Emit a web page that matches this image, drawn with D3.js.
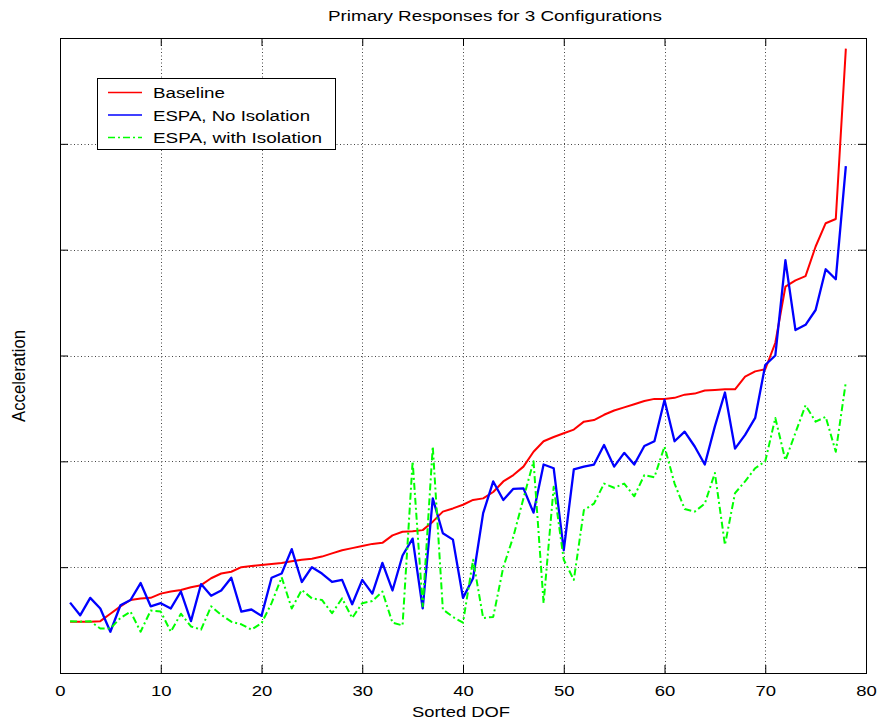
<!DOCTYPE html>
<html><head><meta charset="utf-8">
<script src="https://cdn.jsdelivr.net/npm/d3@7"></script>
<style>
body{margin:0;background:#fff}
svg text{font-family:"Liberation Sans",Arial,Helvetica,sans-serif;fill:#000}
</style></head>
<body><svg id="c" width="877" height="723"></svg>
<script>
const dof = d3.range(1, 79);
const baseline = [0.485,0.485,0.485,0.49,0.56,0.63,0.69,0.705,0.71,0.75,0.77,0.785,0.81,0.83,0.895,0.94,0.957,1.0,1.01,1.02,1.03,1.04,1.055,1.07,1.08,1.10,1.13,1.16,1.18,1.20,1.22,1.23,1.30,1.335,1.34,1.35,1.43,1.525,1.555,1.59,1.635,1.65,1.71,1.81,1.87,1.95,2.09,2.19,2.23,2.265,2.30,2.375,2.39,2.44,2.48,2.51,2.54,2.57,2.59,2.59,2.60,2.63,2.64,2.67,2.675,2.68,2.68,2.80,2.85,2.87,3.12,3.65,3.71,3.75,4.03,4.25,4.29,5.90];
const noIsolation = [0.665,0.545,0.71,0.61,0.39,0.64,0.69,0.85,0.63,0.66,0.61,0.77,0.49,0.84,0.73,0.78,0.90,0.58,0.60,0.54,0.90,0.94,1.17,0.86,1.0,0.94,0.86,0.88,0.65,0.88,0.75,1.04,0.78,1.11,1.27,0.61,1.65,1.32,1.26,0.71,0.895,1.51,1.81,1.635,1.74,1.745,1.515,1.97,1.935,1.16,1.925,1.95,1.97,2.155,1.95,2.08,1.97,2.145,2.19,2.58,2.19,2.28,2.14,1.97,2.33,2.65,2.12,2.25,2.41,2.91,3.0,3.90,3.24,3.29,3.43,3.815,3.72,4.79];
const withIsolation = [0.49,0.485,0.49,0.42,0.42,0.52,0.58,0.39,0.59,0.58,0.39,0.56,0.44,0.41,0.63,0.55,0.485,0.46,0.41,0.47,0.66,0.905,0.61,0.785,0.705,0.69,0.565,0.705,0.52,0.66,0.68,0.77,0.475,0.45,2.0,0.63,2.14,0.6,0.53,0.475,1.07,0.52,0.53,1.0,1.29,1.65,2.0,0.66,1.76,1.07,0.88,1.54,1.60,1.79,1.75,1.79,1.67,1.87,1.85,2.14,1.79,1.55,1.525,1.60,1.89,1.21,1.70,1.81,1.935,2.0,2.41,2.01,2.27,2.53,2.375,2.42,2.09,2.75];
const seriesNames = ["Baseline","ESPA, No Isolation","ESPA, with Isolation"];
const seriesColors = ["#ff0000","#0000ff","#00ff00"];
const xTicks = [0,10,20,30,40,50,60,70,80];
const yTicks = [0,1,2,3,4,5,6];

const svg = d3.select("#c");
const L=60, R=866, T=38, B=673;
const x = d3.scaleLinear().domain([0,80]).range([L,R]);
const y = d3.scaleLinear().domain([0,6]).range([B,T]);
const FS = 15.4;

svg.append("rect").attr("width",877).attr("height",723).attr("fill","#fff");

// grid
const grid = svg.append("g").attr("stroke","#444").attr("stroke-width",1).attr("stroke-dasharray","1,2.5");
grid.selectAll("line.v").data(xTicks.slice(1,-1)).join("line")
  .attr("x1",d=>Math.round(x(d))+0.5).attr("x2",d=>Math.round(x(d))+0.5).attr("y1",T).attr("y2",B);
grid.selectAll("line.h").data(yTicks.slice(1,-1)).join("line")
  .attr("y1",d=>Math.round(y(d))+0.5).attr("y2",d=>Math.round(y(d))+0.5).attr("x1",L).attr("x2",R);

// axes
const gx = svg.append("g").attr("transform",`translate(0,${B})`)
  .call(d3.axisBottom(x).tickValues(xTicks).tickSizeInner(-8).tickSizeOuter(0).tickPadding(12).tickFormat(d3.format("d")));
gx.select(".domain").remove();
gx.selectAll(".tick line").attr("stroke","#000");
gx.selectAll(".tick text").attr("font-size",FS).attr("font-family",null).attr("transform","scale(1.2,1)");

const gxt = svg.append("g").attr("transform",`translate(0,${T})`)
  .call(d3.axisTop(x).tickValues(xTicks).tickSizeInner(-8).tickSizeOuter(0).tickFormat(""));
gxt.select(".domain").remove();

const gy = svg.append("g").attr("transform",`translate(${L},0)`)
  .call(d3.axisLeft(y).tickValues(yTicks).tickSizeInner(-8).tickSizeOuter(0).tickFormat(""));
gy.select(".domain").remove();
const gyr = svg.append("g").attr("transform",`translate(${R},0)`)
  .call(d3.axisRight(y).tickValues(yTicks).tickSizeInner(-8).tickSizeOuter(0).tickFormat(""));
gyr.select(".domain").remove();

svg.append("rect").attr("x",L+0.5).attr("y",T+0.5).attr("width",R-L).attr("height",B-T)
  .attr("fill","none").attr("stroke","#000").attr("stroke-width",1);

// lines
const line = d3.line().x((d,i)=>x(dof[i])).y(d=>y(d));
const allSeries = [baseline, noIsolation, withIsolation];
const widths = [2,2.3,2];
const dashes = [null,null,"7,3,2,3"];
allSeries.forEach((s,k)=>{
  svg.append("path").datum(s).attr("d",line).attr("fill","none")
    .attr("stroke",seriesColors[k]).attr("stroke-width",widths[k])
    .attr("stroke-linejoin","round").attr("stroke-dasharray",dashes[k]);
});

// legend
const lg = svg.append("g");
lg.append("rect").attr("x",97.5).attr("y",78.5).attr("width",238).attr("height",71)
  .attr("fill","#fff").attr("stroke","#000").attr("stroke-width",1);
const legY = [92.5,115,137.5];
const legW = [72,157,169];
seriesNames.forEach((n,k)=>{
  lg.append("line").attr("x1",108).attr("x2",142).attr("y1",legY[k]).attr("y2",legY[k])
    .attr("stroke",seriesColors[k]).attr("stroke-width",1.5).attr("stroke-dasharray",dashes[k]);
  lg.append("text").attr("x",153).attr("y",legY[k]+5.8).attr("font-size",FS)
    .attr("textLength",legW[k]).attr("lengthAdjust","spacingAndGlyphs").text(n);
});

// titles
svg.append("text").attr("x",495).attr("y",21).attr("text-anchor","middle").attr("font-size",FS)
  .attr("textLength",334).attr("lengthAdjust","spacingAndGlyphs").text("Primary Responses for 3 Configurations");
svg.append("text").attr("x",461).attr("y",717).attr("text-anchor","middle").attr("font-size",FS)
  .attr("textLength",98).attr("lengthAdjust","spacingAndGlyphs").text("Sorted DOF");
svg.append("text").attr("transform","translate(25,376) scale(1.2,1) rotate(-90)").attr("text-anchor","middle").attr("font-size",FS)
  .attr("textLength",92).attr("lengthAdjust","spacingAndGlyphs").text("Acceleration");
</script></body></html>
